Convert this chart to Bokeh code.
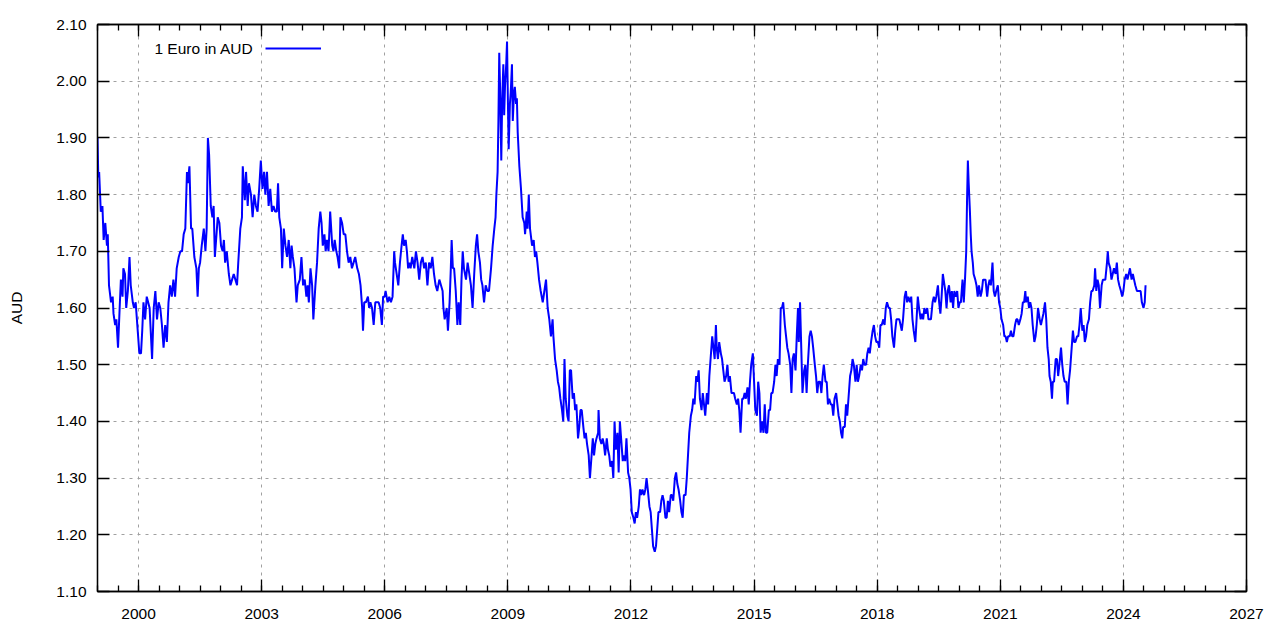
from bokeh.plotting import figure
from bokeh.models import (Range1d, FixedTicker, LinearAxis, Grid, PrintfTickFormatter,
                          CustomJSTickFormatter, Label, Legend, LegendItem)
from bokeh.embed import file_html
from bokeh.resources import INLINE

# ---------------- data (decimal year, EUR in AUD) ----------------
years_1999 = [1999.00,1999.02,1999.04,1999.08,1999.12,1999.15,1999.19,1999.23,1999.25,1999.28,
              1999.33,1999.37,1999.39,1999.43,1999.46,1999.50,1999.54,1999.57,1999.61,1999.63,
              1999.67,1999.70,1999.74,1999.78,1999.81,1999.86,1999.89,1999.93,1999.98,2000.02,
              2000.06,2000.09,2000.12,2000.16,2000.20,2000.27,2000.33,2000.37,2000.41,2000.45,
              2000.49,2000.53,2000.57,2000.61,2000.65,2000.69,2000.73,2000.77,2000.81,2000.85,
              2000.89,2000.93,2000.98,2001.02,2001.06,2001.10,2001.14,2001.18,2001.20,2001.24,
              2001.28,2001.31,2001.36,2001.41,2001.44,2001.47,2001.50,2001.54,2001.59,2001.63,
              2001.66,2001.69,2001.72,2001.76,2001.80,2001.83,2001.86,2001.89,2001.93,2001.97]
aud_1999 = [1.90,1.83,1.84,1.77,1.78,1.72,1.75,1.71,1.73,1.64,
            1.61,1.62,1.59,1.57,1.58,1.53,1.60,1.65,1.62,1.67,
            1.66,1.60,1.63,1.69,1.64,1.61,1.60,1.61,1.56,1.52,
            1.52,1.56,1.61,1.58,1.62,1.60,1.51,1.60,1.63,1.58,
            1.61,1.60,1.57,1.53,1.57,1.54,1.61,1.64,1.62,1.65,
            1.62,1.67,1.69,1.70,1.70,1.73,1.74,1.84,1.82,1.85,
            1.74,1.74,1.69,1.67,1.62,1.67,1.68,1.71,1.74,1.70,
            1.74,1.90,1.87,1.78,1.76,1.78,1.69,1.72,1.76,1.75]

years_2002 = [2002.01,2002.05,2002.08,2002.11,2002.15,2002.20,2002.24,2002.28,2002.32,2002.36,
              2002.40,2002.43,2002.48,2002.52,2002.54,2002.59,2002.62,2002.66,2002.69,2002.74,
              2002.78,2002.82,2002.86,2002.90,2002.94,2002.98,2003.02,2003.06,2003.09,2003.13,
              2003.17,2003.21,2003.25,2003.29,2003.33,2003.37,2003.40,2003.43,2003.47,2003.50,
              2003.54,2003.58,2003.62,2003.66,2003.70,2003.73,2003.76,2003.80,2003.85,2003.88,
              2003.93,2003.97,2004.01,2004.05,2004.09,2004.12,2004.15,2004.19,2004.23,2004.26,
              2004.31,2004.35,2004.39,2004.43,2004.46,2004.49,2004.53,2004.56,2004.59,2004.63,
              2004.67,2004.72,2004.75,2004.78,2004.82,2004.85,2004.89,2004.92,2004.96,2005.00,
              2005.04,2005.08,2005.12,2005.16,2005.20,2005.24,2005.28,2005.33,2005.37,2005.41,
              2005.45,2005.47,2005.50,2005.54,2005.59,2005.62,2005.65,2005.69,2005.73,2005.77,
              2005.81,2005.85,2005.89,2005.93,2005.96]
aud_2002 = [1.71,1.70,1.72,1.68,1.70,1.66,1.64,1.65,1.66,1.65,
            1.64,1.68,1.74,1.76,1.85,1.79,1.84,1.78,1.82,1.80,
            1.76,1.80,1.78,1.77,1.81,1.86,1.81,1.84,1.80,1.84,
            1.78,1.81,1.77,1.78,1.77,1.77,1.82,1.76,1.74,1.67,
            1.74,1.71,1.69,1.72,1.67,1.71,1.69,1.67,1.61,1.64,
            1.65,1.69,1.64,1.65,1.62,1.64,1.61,1.67,1.64,1.58,
            1.64,1.68,1.74,1.77,1.75,1.71,1.73,1.70,1.72,1.70,
            1.77,1.71,1.70,1.72,1.70,1.69,1.67,1.76,1.75,1.73,
            1.73,1.70,1.68,1.69,1.67,1.68,1.69,1.67,1.66,1.64,
            1.60,1.56,1.61,1.61,1.62,1.60,1.61,1.60,1.57,1.61,
            1.61,1.61,1.60,1.57,1.62]

years_2006 = [2006.00,2006.02,2006.07,2006.11,2006.15,2006.19,2006.23,2006.25,2006.29,2006.33,
              2006.37,2006.41,2006.44,2006.47,2006.51,2006.54,2006.57,2006.60,2006.63,2006.67,
              2006.72,2006.76,2006.80,2006.84,2006.88,2006.92,2006.96,2007.00,2007.04,2007.08,
              2007.12,2007.16,2007.20,2007.24,2007.28,2007.33,2007.37,2007.41,2007.43,2007.46,
              2007.51,2007.54,2007.58,2007.61,2007.63,2007.66,2007.69,2007.73,2007.77,2007.80,
              2007.84,2007.87,2007.90,2007.93,2007.98,2008.02,2008.06,2008.10,2008.14,2008.18,
              2008.22,2008.25,2008.28,2008.32,2008.35,2008.38,2008.42,2008.46,2008.50,2008.54,
              2008.59,2008.63,2008.67,2008.70,2008.72,2008.75,2008.77,2008.79,2008.81,2008.84,
              2008.86,2008.89,2008.91,2008.93,2008.96,2008.98,2009.00,2009.02,2009.05,2009.07,
              2009.10,2009.12,2009.15,2009.17,2009.20,2009.22,2009.24,2009.28,2009.32,2009.36,
              2009.40,2009.42,2009.46,2009.48,2009.51,2009.54,2009.59,2009.63,2009.66,2009.69,
              2009.72,2009.76,2009.80,2009.85,2009.89,2009.93,2009.97,2010.01,2010.05,2010.09,
              2010.11]
aud_2006 = [1.62,1.63,1.61,1.62,1.61,1.62,1.70,1.68,1.66,1.64,
            1.68,1.71,1.73,1.71,1.72,1.70,1.67,1.68,1.67,1.69,
            1.67,1.70,1.68,1.65,1.68,1.69,1.67,1.68,1.64,1.68,
            1.67,1.69,1.66,1.64,1.63,1.65,1.64,1.63,1.60,1.58,
            1.60,1.56,1.61,1.67,1.72,1.67,1.67,1.63,1.57,1.61,
            1.57,1.65,1.70,1.67,1.65,1.68,1.66,1.64,1.60,1.66,
            1.71,1.73,1.70,1.68,1.65,1.64,1.61,1.64,1.63,1.63,
            1.67,1.71,1.74,1.76,1.80,1.84,1.93,2.05,1.99,1.86,
            1.96,2.03,1.94,1.99,2.03,2.07,1.97,1.88,1.96,1.98,
            2.03,1.93,1.98,1.99,1.96,1.97,1.91,1.85,1.81,1.76,
            1.75,1.73,1.77,1.74,1.80,1.74,1.71,1.72,1.69,1.70,
            1.68,1.65,1.63,1.61,1.63,1.65,1.60,1.58,1.55,1.58,
            1.55]

years_2010 = [2010.15,2010.19,2010.22,2010.25,2010.28,2010.32,2010.35,2010.38,2010.41,2010.45,
              2010.48,2010.51,2010.54,2010.58,2010.61,2010.64,2010.67,2010.71,2010.74,2010.77,
              2010.80,2010.84,2010.87,2010.90,2010.93,2010.97,2011.00,2011.03,2011.07,2011.10,
              2011.13,2011.16,2011.20,2011.21,2011.24,2011.28,2011.31,2011.34,2011.37,2011.41,
              2011.44,2011.47,2011.50,2011.54,2011.57,2011.60,2011.63,2011.67,2011.70,2011.73,
              2011.76,2011.80,2011.83,2011.86,2011.89,2011.93,2011.96,2011.99,2012.02,2012.06,
              2012.09,2012.12,2012.15,2012.19,2012.22,2012.25,2012.28,2012.32,2012.35,2012.38,
              2012.41,2012.45,2012.48,2012.51,2012.54,2012.58,2012.61,2012.64,2012.67,2012.71,
              2012.74,2012.77,2012.80,2012.84,2012.87,2012.90,2012.93,2012.97,2013.00,2013.03,
              2013.07,2013.10,2013.13,2013.16,2013.20,2013.23,2013.26,2013.29,2013.33,2013.36,
              2013.39,2013.42,2013.46,2013.49,2013.52,2013.55,2013.59,2013.62,2013.65,2013.68,
              2013.72,2013.75,2013.78,2013.81,2013.85,2013.88,2013.91,2013.94,2013.98,2014.01,
              2014.04,2014.07,2014.09,2014.12,2014.15,2014.19,2014.22,2014.25,2014.28,2014.32,
              2014.35,2014.38,2014.41,2014.45,2014.48,2014.51,2014.54,2014.58,2014.61,2014.64,
              2014.67,2014.71,2014.74,2014.77,2014.80,2014.84,2014.87,2014.90,2014.93,2014.97,
              2015.00,2015.03,2015.07,2015.10,2015.13]
aud_2010 = [1.51,1.49,1.47,1.46,1.44,1.42,1.40,1.51,1.44,1.41,
            1.40,1.49,1.49,1.44,1.45,1.42,1.43,1.37,1.39,1.42,
            1.42,1.39,1.37,1.38,1.36,1.34,1.30,1.33,1.37,1.34,
            1.36,1.37,1.38,1.42,1.37,1.36,1.37,1.36,1.34,1.37,
            1.35,1.34,1.32,1.33,1.30,1.40,1.35,1.38,1.31,1.40,
            1.37,1.33,1.34,1.33,1.37,1.31,1.30,1.28,1.24,1.23,
            1.22,1.24,1.23,1.25,1.28,1.27,1.28,1.27,1.28,1.30,
            1.28,1.25,1.24,1.21,1.18,1.17,1.18,1.21,1.24,1.24,
            1.26,1.27,1.26,1.23,1.23,1.26,1.24,1.27,1.27,1.26,
            1.30,1.31,1.29,1.28,1.26,1.24,1.23,1.27,1.27,1.30,
            1.34,1.38,1.41,1.42,1.44,1.43,1.48,1.47,1.49,1.44,
            1.42,1.45,1.43,1.41,1.45,1.43,1.48,1.51,1.55,1.53,
            1.51,1.57,1.53,1.51,1.54,1.52,1.51,1.49,1.47,1.48,
            1.50,1.47,1.48,1.45,1.45,1.45,1.44,1.43,1.44,1.42,
            1.38,1.44,1.44,1.45,1.44,1.46,1.43,1.47,1.50,1.52,
            1.47,1.42,1.41,1.47,1.45]

years_2015 = [2015.16,2015.19,2015.23,2015.26,2015.29,2015.32,2015.36,2015.39,2015.42,2015.45,
              2015.49,2015.52,2015.55,2015.58,2015.62,2015.65,2015.68,2015.71,2015.75,2015.78,
              2015.81,2015.84,2015.88,2015.91,2015.94,2015.97,2016.01,2016.04,2016.07,2016.09,
              2016.12,2016.15,2016.18,2016.22,2016.25,2016.28,2016.31,2016.35,2016.38,2016.41,
              2016.44,2016.48,2016.51,2016.54,2016.57,2016.61,2016.64,2016.67,2016.70,2016.74,
              2016.77,2016.80,2016.83,2016.87,2016.90,2016.93,2016.96,2017.00,2017.03,2017.06,
              2017.09,2017.12,2017.15,2017.17,2017.21,2017.24,2017.27,2017.30,2017.34,2017.37,
              2017.40,2017.43,2017.47,2017.50,2017.53,2017.56,2017.60,2017.63,2017.66,2017.69,
              2017.73,2017.76,2017.79,2017.82,2017.85,2017.89,2017.92,2017.95,2017.98,2018.02,
              2018.05,2018.08,2018.11,2018.15,2018.18,2018.21,2018.24,2018.28,2018.31,2018.34,
              2018.37,2018.41,2018.44,2018.47,2018.50,2018.54,2018.57,2018.60,2018.63,2018.67,
              2018.70,2018.73,2018.76,2018.80,2018.83,2018.86,2018.89,2018.93,2018.96,2018.99,
              2019.02,2019.06,2019.09,2019.12,2019.15,2019.18,2019.22,2019.25,2019.28,2019.31,
              2019.35,2019.38,2019.41,2019.44,2019.48,2019.51,2019.54,2019.57,2019.60,2019.62,
              2019.66,2019.69,2019.72,2019.75,2019.79,2019.82,2019.85,2019.88,2019.91,2019.95,
              2019.98,2020.01,2020.04,2020.08,2020.11,2020.14,2020.17,2020.19,2020.21,2020.23,
              2020.26,2020.28,2020.30,2020.33,2020.35,2020.39,2020.42,2020.45,2020.48,2020.52,
              2020.55,2020.58,2020.61,2020.64,2020.68,2020.71,2020.74,2020.77,2020.81,2020.84,
              2020.87,2020.90,2020.94,2020.97,2021.00,2021.03,2021.07,2021.10,2021.13,2021.16]
aud_2015 = [1.38,1.40,1.38,1.43,1.38,1.38,1.42,1.42,1.45,1.45,
            1.47,1.50,1.48,1.51,1.50,1.60,1.60,1.61,1.57,1.55,
            1.53,1.52,1.50,1.45,1.51,1.52,1.49,1.55,1.60,1.54,
            1.61,1.53,1.45,1.49,1.50,1.45,1.50,1.55,1.56,1.55,
            1.53,1.50,1.48,1.45,1.47,1.47,1.45,1.48,1.50,1.47,
            1.47,1.43,1.44,1.43,1.43,1.41,1.44,1.45,1.43,1.41,
            1.40,1.38,1.37,1.39,1.39,1.43,1.41,1.44,1.48,1.49,
            1.51,1.50,1.47,1.50,1.47,1.48,1.50,1.49,1.51,1.50,
            1.50,1.52,1.53,1.52,1.54,1.56,1.57,1.55,1.54,1.54,
            1.53,1.57,1.57,1.58,1.57,1.60,1.61,1.60,1.60,1.58,
            1.55,1.53,1.56,1.58,1.58,1.58,1.57,1.56,1.58,1.62,
            1.63,1.61,1.62,1.61,1.62,1.58,1.56,1.54,1.58,1.62,
            1.60,1.58,1.59,1.58,1.60,1.59,1.60,1.58,1.58,1.58,
            1.61,1.62,1.61,1.62,1.64,1.61,1.59,1.62,1.66,1.65,
            1.63,1.60,1.63,1.64,1.61,1.63,1.60,1.63,1.62,1.63,
            1.60,1.61,1.61,1.65,1.61,1.65,1.70,1.79,1.86,1.82,
            1.77,1.73,1.70,1.68,1.66,1.65,1.64,1.62,1.64,1.62,
            1.63,1.65,1.65,1.65,1.62,1.64,1.65,1.64,1.68,1.63,
            1.62,1.63,1.64,1.61,1.60,1.58,1.57,1.55,1.55,1.54]

years_2021 = [2021.19,2021.23,2021.26,2021.29,2021.32,2021.36,2021.39,2021.42,2021.45,2021.49,
              2021.52,2021.55,2021.58,2021.61,2021.63,2021.67,2021.70,2021.73,2021.76,2021.79,
              2021.83,2021.86,2021.89,2021.92,2021.96,2021.99,2022.02,2022.05,2022.09,2022.12,
              2022.15,2022.18,2022.20,2022.23,2022.26,2022.28,2022.31,2022.35,2022.38,2022.41,
              2022.44,2022.48,2022.51,2022.54,2022.57,2022.61,2022.64,2022.67,2022.70,2022.74,
              2022.77,2022.80,2022.83,2022.87,2022.90,2022.93,2022.96,2023.00,2023.03,2023.06,
              2023.09,2023.12,2023.16,2023.19,2023.22,2023.25,2023.29,2023.31,2023.34,2023.37,
              2023.40,2023.43,2023.47,2023.50,2023.53,2023.56,2023.60,2023.62,2023.64,2023.68,
              2023.71,2023.74,2023.77,2023.81,2023.84,2023.87,2023.90,2023.94,2023.97,2024.00,
              2024.03,2024.07,2024.10,2024.13,2024.16,2024.20,2024.23,2024.26,2024.29,2024.33,
              2024.36,2024.39,2024.42,2024.45,2024.49,2024.52,2024.54]
aud_2021 = [1.55,1.55,1.56,1.55,1.55,1.57,1.58,1.58,1.57,1.58,
            1.59,1.61,1.61,1.63,1.61,1.62,1.60,1.61,1.60,1.57,
            1.54,1.55,1.57,1.60,1.58,1.57,1.58,1.59,1.61,1.58,
            1.53,1.51,1.48,1.47,1.44,1.47,1.47,1.51,1.51,1.48,
            1.50,1.53,1.50,1.48,1.47,1.47,1.43,1.47,1.49,1.53,
            1.56,1.54,1.54,1.55,1.55,1.57,1.60,1.56,1.57,1.54,
            1.55,1.57,1.58,1.61,1.63,1.63,1.64,1.67,1.63,1.65,
            1.64,1.60,1.64,1.65,1.65,1.65,1.68,1.70,1.68,1.67,
            1.65,1.66,1.67,1.66,1.68,1.65,1.64,1.63,1.62,1.63,
            1.65,1.66,1.65,1.66,1.67,1.65,1.66,1.65,1.64,1.63,
            1.63,1.63,1.63,1.61,1.60,1.61,1.64]

x_major_ticks = [2000, 2003, 2006, 2009, 2012, 2015, 2018, 2021, 2024, 2027]
x_minor_ticks = [1999 + 0.5 * i for i in range(57)]
y_major_ticks = [1.10, 1.20, 1.30, 1.40, 1.50, 1.60, 1.70, 1.80, 1.90, 2.00, 2.10]
series_label = "1 Euro in AUD"
y_axis_label = "AUD"

years = years_1999 + years_2002 + years_2006 + years_2010 + years_2015 + years_2021
aud = aud_1999 + aud_2002 + aud_2006 + aud_2010 + aud_2015 + aud_2021

# ---------------- figure ----------------
FONT = "Liberation Sans"
FS = "15.5px"

p = figure(frame_width=1149, frame_height=567,
           min_border_left=97, min_border_right=24, min_border_top=24, min_border_bottom=41,
           x_range=Range1d(1999, 2027), y_range=Range1d(1.10, 2.10),
           x_axis_type=None, y_axis_type=None,
           output_backend="svg", toolbar_location=None,
           background_fill_color="white", border_fill_color="white")
p.outline_line_color = "black"
p.outline_line_width = 1.3

xticker = FixedTicker(ticks=x_major_ticks, minor_ticks=x_minor_ticks)
yticker = FixedTicker(ticks=y_major_ticks, minor_ticks=[])


def style_axis(ax, show_labels):
    ax.axis_line_color = "black"
    ax.axis_line_width = 1.3
    ax.major_tick_line_color = "black"
    ax.major_tick_line_width = 1.3
    ax.major_tick_in = 12
    ax.major_tick_out = 0
    ax.minor_tick_line_color = "black"
    ax.minor_tick_line_width = 1.3
    ax.minor_tick_in = 6
    ax.minor_tick_out = 0
    if show_labels:
        ax.major_label_text_font = FONT
        ax.major_label_text_font_size = FS
        ax.major_label_text_color = "black"
    else:
        ax.formatter = CustomJSTickFormatter(code="return ''")
        ax.major_label_text_font_size = "1px"
        ax.major_label_standoff = 0


bottom = LinearAxis(ticker=xticker, formatter=PrintfTickFormatter(format="%d"))
style_axis(bottom, True)
bottom.major_label_standoff = 17
p.add_layout(bottom, "below")

top = LinearAxis(ticker=xticker)
style_axis(top, False)
p.add_layout(top, "above")

left = LinearAxis(ticker=yticker, formatter=PrintfTickFormatter(format="%.2f"))
style_axis(left, True)
left.minor_tick_in = 0
left.major_label_standoff = 11
left.axis_label = y_axis_label
left.axis_label_text_font = FONT
left.axis_label_text_font_size = FS
left.axis_label_text_font_style = "normal"
left.axis_label_text_color = "black"
left.axis_label_standoff = 28
p.add_layout(left, "left")

right = LinearAxis(ticker=yticker)
style_axis(right, False)
right.minor_tick_in = 0
p.add_layout(right, "right")

for dim, tk in ((0, xticker), (1, yticker)):
    g = Grid(dimension=dim, ticker=tk, grid_line_color="#a0a0a0", grid_line_width=1,
             grid_line_dash="3 5")
    p.add_layout(g)

r = p.line(years, aud, line_color="#0000ff", line_width=2)

legend = Legend(items=[LegendItem(label=" ", renderers=[r])], location=(168, 538),
                padding=0, margin=0, spacing=0, label_standoff=0,
                glyph_width=56, glyph_height=10, label_height=10, label_width=0,
                label_text_font_size="1px", border_line_alpha=0, background_fill_alpha=0)
p.add_layout(legend)

p.add_layout(Label(x=156, y=543, x_units="screen", y_units="screen", text=series_label,
                   text_align="right", text_baseline="middle", text_font=FONT,
                   text_font_size=FS, text_color="black"))

open("out.html", "w").write(file_html(p, INLINE))
